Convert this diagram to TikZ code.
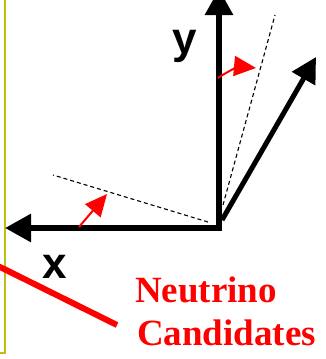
\documentclass[tikz,border=0pt]{standalone}
\usepackage{fontspec}
\setmainfont{Liberation Serif}
\newfontfamily\axisfont{Liberation Sans}
\usetikzlibrary{arrows.meta}
\definecolor{frameolive}{RGB}{190,190,20}

\begin{document}
\begin{tikzpicture}[x=1pt,y=-1pt,
  axis/.style={line width=6pt,line join=miter,{Triangle[length=26pt,width=27pt]}-{Triangle[length=26pt,width=27pt]}},
  guide/.style={black,line width=1.1pt,dash pattern=on 4pt off 3pt},
  turn/.style={red,line width=2pt,-{Triangle[length=22pt,width=20pt]}},
  axislabel/.style={font=\axisfont\bfseries\fontsize{44}{44}\selectfont,anchor=base,inner sep=0pt},
  redlabel/.style={red,font=\bfseries\fontsize{37}{43}\selectfont,anchor=base west,inner sep=0pt}]
  \useasboundingbox (0,0) rectangle (326,359);
  % frame edge on the left
  \draw[frameolive,line width=2.2pt] (5,-2)--(5,353)--(-2,353);
  % axes
  \coordinate (O) at (219,228);
  \coordinate (xtip) at (5,228);
  \coordinate (ytip) at (219,-11);
  \draw[axis] (xtip)--(O)--(ytip);
  \node[axislabel] (ylab) at (184.5,53) {y};
  \node[axislabel] (xlab) at (54.5,278) {x};
  % rotated axis
  \coordinate (R) at (222,220);
  \coordinate (rtip) at (316,57);
  \draw[line width=5pt,-{Triangle[length=25pt,width=26pt]}] (R)--(rtip);
  % dashed guides
  \coordinate (gy) at (275,15);
  \coordinate (gx) at (53,175);
  \draw[guide] (223,205)--(gy);
  \draw[guide] (208,222)--(gx);
  % rotation arrows
  \draw[turn] (218,78) to[bend left=20] (256,68);
  \draw[turn] (79,227)--(107,194);
  % neutrino label
  \draw[red,line width=6pt] (-2,266)--(117,325);
  \node[redlabel] (nu) at (135,302) {Neutrino};
  \node[redlabel] (cand) at (137,345) {Candidates};
\end{tikzpicture}
\end{document}
